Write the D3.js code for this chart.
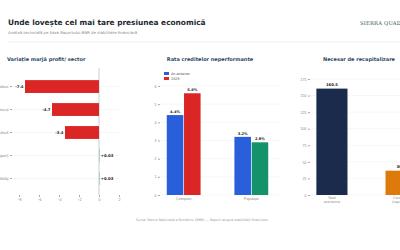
<!DOCTYPE html>
<html>
<head>
<meta charset="utf-8">
<script src="https://cdn.jsdelivr.net/npm/d3@7"></script>
<style>
  body { margin: 0; background: #fff; overflow: hidden; }
  svg { font-family: "DejaVu Sans", sans-serif; display: block; }
  .axis text { fill: #888; font-size: 3.6px; }
  .axis line { stroke: #aaa; }
  .axis path { display: none; }
</style>
</head>
<body>
<svg id="chart" width="400" height="250"></svg>
<script>
// profit margin change per sector (pp)
const sectors = ['Imobiliare', 'Construcții', 'Agricultură', 'IT (servicii suport)', 'Utilități'];
const marginChange = [-7.4, -4.7, -3.4, 0.03, 0.03];
const marginTicks = [-8, -6, -4, -2, 0, 2];

// NPL ratio (%)
const nplGroups = ['Companii', 'Populație'];
const nplPrev = [4.4, 3.2];
const npl2025 = [5.6, 2.9];
const nplTicks = [0, 1, 2, 3, 4, 5, 6];

// recapitalisation need
const recapCats = [['Total', 'economie'], ['Companii', '(capitaluri)']];
const recapValues = [160.5, 36.7];
const recapTicks = [0, 25, 50, 75, 100, 125, 150, 175];

const svg = d3.select('#chart');

// header
svg.append('text').attr('x', 8).attr('y', 25)
  .style('font-size', '7.4px').style('font-weight', 'bold').style('fill', '#1c2733')
  .text('Unde lovește cel mai tare presiunea economică');
svg.append('text').attr('x', 8).attr('y', 34)
  .style('font-size', '3.9px').style('fill', '#8a8a8a')
  .text('Analiză sectorială pe baza Raportului BNR de stabilitate financiară');
svg.append('text').attr('x', 360).attr('y', 25)
  .style('font-family', '"DejaVu Serif", serif').style('font-size', '5.2px')
  .style('fill', '#2a5a48').style('letter-spacing', '0.2px')
  .text('SIERRA QUADRANT');
svg.append('line').attr('x1', 8).attr('x2', 400).attr('y1', 42).attr('y2', 42)
  .style('stroke', '#eee').style('stroke-width', 0.8);

function panelTitle(x, y, txt, anchor) {
  svg.append('text').attr('x', x).attr('y', y).attr('text-anchor', anchor || 'start')
    .style('font-size', '5px').style('font-weight', 'bold').style('fill', '#2b4a66')
    .text(txt);
}

// ---- panel 1: horizontal bars
panelTitle(7, 61, 'Variație marjă profit/ sector');
const x1 = d3.scaleLinear().domain([-8, 2]).range([19, 119]);
const y1 = d3.scaleBand().domain(sectors).range([70, 195]).padding(0.44);
const p1 = svg.append('g');

p1.selectAll('.grid').data(sectors).enter().append('line')
  .attr('x1', 12).attr('x2', 119)
  .attr('y1', d => y1(d) + y1.bandwidth() / 2).attr('y2', d => y1(d) + y1.bandwidth() / 2)
  .style('stroke', '#eee').style('stroke-width', 0.5);
p1.append('g').attr('class', 'axis').attr('transform', 'translate(12,0)')
  .call(d3.axisLeft(y1).tickSize(2).tickPadding(1.5));
p1.append('g').attr('class', 'axis').attr('transform', 'translate(0,195)')
  .call(d3.axisBottom(x1).tickValues(marginTicks).tickSize(2).tickPadding(1.5).tickFormat(d3.format('d')));
p1.append('line').attr('x1', x1(0)).attr('x2', x1(0)).attr('y1', 68).attr('y2', 195)
  .style('stroke', '#aab').style('stroke-width', 0.6);

p1.selectAll('.bar').data(marginChange).enter().append('rect')
  .attr('x', d => x1(Math.min(0, d)))
  .attr('width', d => Math.max(0.6, Math.abs(x1(d) - x1(0))))
  .attr('y', (d, i) => y1(sectors[i]))
  .attr('height', y1.bandwidth())
  .style('fill', d => d < 0 ? '#dc2626' : '#7cc9b8');
p1.selectAll('.lbl').data(marginChange).enter().append('text')
  .attr('x', d => d < 0 ? x1(d) - 1.5 : x1(0) + 1.8)
  .attr('y', (d, i) => y1(sectors[i]) + y1.bandwidth() / 2 + 1.3)
  .attr('text-anchor', d => d < 0 ? 'end' : 'start')
  .style('font-size', '3.8px').style('font-weight', 'bold').style('fill', '#222')
  .text(d => d < 0 ? d.toFixed(1) : '+' + d.toFixed(2));

// ---- panel 2: grouped bars
panelTitle(210, 61, 'Rata creditelor neperformante', 'middle');
const y2 = d3.scaleLinear().domain([0, 6]).range([195, 86]);
const x2 = d3.scaleBand().domain(nplGroups).range([160, 275]).paddingInner(0.5).paddingOuter(0.1);
const x2s = d3.scaleBand().domain(['prev', 'cur']).range([0, x2.bandwidth()]).paddingInner(0.04);
const p2 = svg.append('g');

p2.selectAll('.grid').data(nplTicks).enter().append('line')
  .attr('x1', 160).attr('x2', 280).attr('y1', d => y2(d)).attr('y2', d => y2(d))
  .style('stroke', '#eee').style('stroke-width', 0.5);
p2.append('g').attr('class', 'axis').attr('transform', 'translate(160,0)')
  .call(d3.axisLeft(y2).tickValues(nplTicks).tickSize(2).tickPadding(1.5).tickFormat(d3.format('d')));
p2.append('g').attr('class', 'axis').attr('transform', 'translate(0,195)')
  .call(d3.axisBottom(x2).tickSize(0).tickPadding(2.5));

const nplRows = nplGroups.map((g, i) => [
  { g, k: 'prev', v: nplPrev[i], c: '#2a5fdb' },
  { g, k: 'cur', v: npl2025[i], c: npl2025[i] > nplPrev[i] ? '#dc2626' : '#14936a' }
]).flat();
p2.selectAll('.bar').data(nplRows).enter().append('rect')
  .attr('x', d => x2(d.g) + x2s(d.k)).attr('width', x2s.bandwidth())
  .attr('y', d => y2(d.v)).attr('height', d => y2(0) - y2(d.v))
  .style('fill', d => d.c);
p2.selectAll('.lbl').data(nplRows).enter().append('text')
  .attr('x', d => x2(d.g) + x2s(d.k) + x2s.bandwidth() / 2)
  .attr('y', d => y2(d.v) - 2)
  .attr('text-anchor', 'middle')
  .style('font-size', '3.6px').style('font-weight', 'bold').style('fill', '#222')
  .text(d => d.v.toFixed(1) + '%');

const legend = [['An anterior', '#2a5fdb'], ['2025', '#dc2626']];
const lg = p2.selectAll('.lg').data(legend).enter().append('g')
  .attr('transform', (d, i) => `translate(164,${72 + i * 5})`);
lg.append('rect').attr('width', 5).attr('height', 3).style('fill', d => d[1]);
lg.append('text').attr('x', 7).attr('y', 2.6)
  .style('font-size', '3.4px').style('fill', '#444').text(d => d[0]);

// ---- panel 3: recap bars
panelTitle(359, 61, 'Necesar de recapitalizare', 'middle');
const y3 = d3.scaleLinear().domain([0, 175]).range([195, 79]);
const x3 = d3.scaleBand().domain(recapCats.map(d => d[0])).range([306, 427]).paddingInner(0.55).paddingOuter(0.15);
const p3 = svg.append('g');

p3.selectAll('.grid').data(recapTicks).enter().append('line')
  .attr('x1', 310).attr('x2', 400).attr('y1', d => y3(d)).attr('y2', d => y3(d))
  .style('stroke', '#eee').style('stroke-width', 0.5);
p3.append('g').attr('class', 'axis').attr('transform', 'translate(310,0)')
  .call(d3.axisLeft(y3).tickValues(recapTicks).tickSize(2).tickPadding(1.5).tickFormat(d3.format('d')));

const recapColors = ['#1b2b4b', '#dd7a0c'];
p3.selectAll('.bar').data(recapValues).enter().append('rect')
  .attr('x', (d, i) => x3(recapCats[i][0])).attr('width', x3.bandwidth())
  .attr('y', d => y3(d)).attr('height', d => y3(0) - y3(d))
  .style('fill', (d, i) => recapColors[i]);
p3.selectAll('.lbl').data(recapValues).enter().append('text')
  .attr('x', (d, i) => x3(recapCats[i][0]) + x3.bandwidth() / 2)
  .attr('y', d => y3(d) - 2.5)
  .attr('text-anchor', 'middle')
  .style('font-size', '3.8px').style('font-weight', 'bold').style('fill', '#222')
  .text(d => d.toFixed(1));
const cl = p3.selectAll('.cat').data(recapCats).enter().append('text')
  .attr('x', d => x3(d[0]) + x3.bandwidth() / 2).attr('y', 199)
  .attr('text-anchor', 'middle')
  .style('font-size', '3.4px').style('fill', '#888');
cl.selectAll('tspan').data(d => d).enter().append('tspan')
  .attr('x', function () { return d3.select(this.parentNode).attr('x'); })
  .attr('dy', (d, i) => i ? 4 : 0).text(d => d);

// footer
svg.append('text').attr('x', 202).attr('y', 221).attr('text-anchor', 'middle')
  .style('font-size', '3.3px').style('fill', '#999')
  .text('Sursă: Banca Națională a României (BNR) — Raport asupra stabilității financiare');
</script>
</body>
</html>
